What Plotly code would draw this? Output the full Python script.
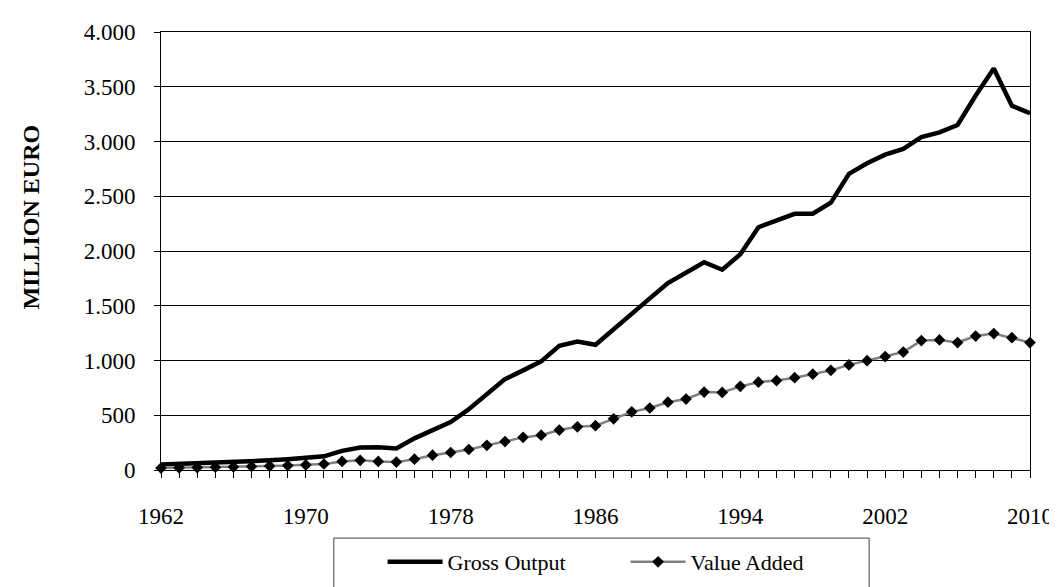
import plotly.graph_objects as go

YEARS = list(range(1962, 2011))

GROSS_OUTPUT = [
    50, 55, 58, 65, 72, 80, 88, 98, 108, 125,
    175, 205, 208, 197, 289, 363, 437, 555, 691, 830,
    910, 992, 1135, 1173, 1144, 1289, 1435, 1567, 1707, 1800,
    1897, 1829, 1970, 2217, 2282, 2340, 2340, 2442, 2705, 2801,
    2880, 2932, 3040, 3084, 3151, 3420, 3667, 3326, 3259,
]

VALUE_ADDED = [
    18, 20, 22, 25, 28, 32, 36, 40, 46, 55,
    78, 88, 78, 72, 99, 135, 160, 187, 225, 260,
    298, 318, 365, 394, 405, 467, 531, 566, 619, 648,
    712, 708, 764, 802, 817, 843, 875, 910, 960, 998,
    1036, 1077, 1182, 1188, 1164, 1223, 1246, 1208, 1164,
]

FONT = "Liberation Serif"

fig = go.Figure()
fig.add_trace(
    go.Scatter(
        x=YEARS, y=GROSS_OUTPUT, name="Gross Output", mode="lines",
        line=dict(color="black", width=4.5), cliponaxis=False,
    )
)
fig.add_trace(
    go.Scatter(
        x=YEARS, y=VALUE_ADDED, name="Value Added", mode="lines+markers",
        line=dict(color="#808080", width=2.5),
        marker=dict(symbol="diamond", size=9, color="black"),
        cliponaxis=False,
    )
)

fig.update_layout(
    width=1057,
    height=587,
    margin=dict(l=153, r=29, t=17, b=113, pad=0),
    paper_bgcolor="white",
    plot_bgcolor="white",
    separators=",.",
    font=dict(family=FONT, size=23, color="black"),
    showlegend=True,
    legend=dict(
        orientation="h",
        x=0.255, xanchor="left",
        y=-0.21, yanchor="middle",
        font=dict(family=FONT, size=22),
        borderwidth=0,
        bgcolor="rgba(0,0,0,0)",
        itemwidth=55,
        entrywidth=173,
        traceorder="normal",
    ),
)

fig.update_xaxes(
    range=[1962, 2010],
    tick0=1962, dtick=8,
    ticks="outside", ticklen=7, tickcolor="black",
    minor=dict(dtick=1, ticks="outside", ticklen=7, tickcolor="black"),
    showgrid=False,
    showline=True, linecolor="black", linewidth=1, mirror=True,
    ticklabelstandoff=18,
    zeroline=False,
)
fig.update_yaxes(
    range=[0, 4000],
    dtick=500,
    tickformat=",d",
    ticks="outside", ticklen=6, tickcolor="black",
    showgrid=True, gridcolor="black", gridwidth=1,
    showline=True, linecolor="black", linewidth=1, mirror=True,
    ticklabelstandoff=14,
    zeroline=False,
)

# y axis title, placed like the original (above plot centre)
fig.add_annotation(
    text="<b>MILLION EURO</b>", textangle=-90,
    xref="paper", yref="paper", x=-0.15, y=0.578,
    xanchor="center", yanchor="middle", showarrow=False,
    font=dict(family=FONT, size=24, color="black"),
)

# legend frame
fig.add_shape(
    type="rect", xref="paper", yref="paper",
    x0=0.1989, x1=0.8149, y0=-0.1554, y1=-0.30,
    line=dict(color="#404040", width=1), fillcolor="rgba(0,0,0,0)",
    layer="below",
)

fig.write_html("out.html")
